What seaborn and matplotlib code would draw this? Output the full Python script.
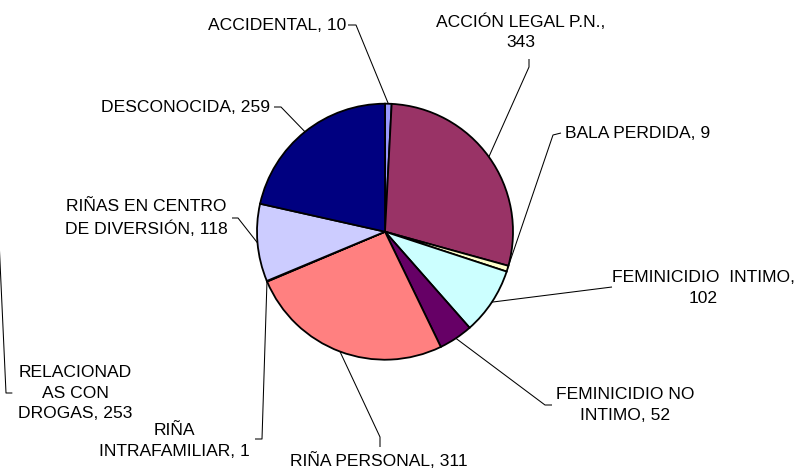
import numpy as np
import matplotlib
matplotlib.use("Agg")
import matplotlib.pyplot as plt
import seaborn as sns

# Homicidios por móvil (sectores del pastel, en orden horario desde las 12)
categorias = [
    "ACCIDENTAL",
    "ACCIÓN LEGAL P.N.",
    "BALA PERDIDA",
    "FEMINICIDIO  INTIMO",
    "FEMINICIDIO NO\nINTIMO",
    "RIÑA PERSONAL",
    "RIÑA\nINTRAFAMILIAR",
    "RIÑAS EN CENTRO\nDE DIVERSIÓN",
    "DESCONOCIDA",
]
casos = [10, 343, 9, 102, 52, 311, 1, 118, 259]
colores = ["#9999FF", "#993366", "#FFFFCC", "#CCFFFF", "#660066",
           "#FF8080", "#0066CC", "#CCCCFF", "#000080"]

# Móvil que solo figura como rótulo (sin sector propio en el pastel)
categoria_aparte = "RELACIONAD\nAS CON\nDROGAS"
casos_aparte = 253

W, H = 800, 470
sns.set_theme(style="white")
plt.rcParams["font.family"] = ["Liberation Sans", "DejaVu Sans"]

fig = plt.figure(figsize=(W / 100, H / 100), dpi=100)
ax = fig.add_axes([0, 0, 1, 1])


def py(y):
    """Convierte una coordenada vertical medida desde arriba."""
    return H - y


cx, cy, r = 385, py(231.7), 128
paleta = sns.color_palette(colores)
wedges, _ = ax.pie(
    casos, colors=paleta, startangle=90, counterclock=False,
    center=(cx, cy), radius=r,
    wedgeprops=dict(edgecolor="black", linewidth=1.3),
)
ax.set_xlim(0, W)
ax.set_ylim(0, H)
ax.set_aspect("equal")
ax.axis("off")

# Ángulo medio de cada sector (grados, horario desde las 12)
total = float(np.sum(casos))
acum = np.cumsum(casos)
medios = (acum - np.array(casos) / 2.0) / total * 360.0


def borde(ang):
    t = np.deg2rad(ang)
    return cx + r * np.sin(t), cy + r * np.cos(t)


# Rótulos: (posición del texto, alineación, separador, codo de la guía)
disposicion = [
    ((346, 25), "right", " ", [(348, 25), (356, 25)]),
    ((521, 32), "center", "\n", [(529, 59), (529, 67)]),
    ((565, 133), "left", " ", [(561, 133), (553, 135)]),
    ((703, 288), "center", "\n", [(612, 287)]),
    ((625, 405), "center", " ", [(552, 405), (545, 405)]),
    ((379, 461), "center", " ", [(380, 447), (380, 437)]),
    ((174, 441), "center", " ", [(255, 439), (262, 439)]),
    ((146, 218), "center", " ", [(232, 218), (238, 218)]),
    ((270, 107), "right", " ", [(274, 107), (281, 107)]),
]

fs = 12.6
ls = 1.45
for nombre, valor, ang, (pos, ha, sep, codo) in zip(categorias, casos, medios, disposicion):
    texto = f"{nombre},{sep}{valor}"
    ax.text(pos[0], py(pos[1]), texto, ha=ha, va="center", fontsize=fs,
            color="black", multialignment="center", linespacing=ls)
    xs = [p[0] for p in codo]
    ys = [py(p[1]) for p in codo]
    ex, ey = borde(ang)
    ax.plot(xs + [ex], ys + [ey], color="black", lw=0.75,
            solid_capstyle="butt", zorder=3)

# Rótulo sin sector, con su guía que sale por el margen izquierdo
ax.text(75, py(393), f"{categoria_aparte}, {casos_aparte}", ha="center",
        va="center", fontsize=fs, color="black", multialignment="center",
        linespacing=ls)
ax.plot([12, 6, -1], [py(393), py(393), py(240)], color="black", lw=0.75,
        clip_on=True)

fig.savefig("out.png", dpi=100, facecolor="white")
